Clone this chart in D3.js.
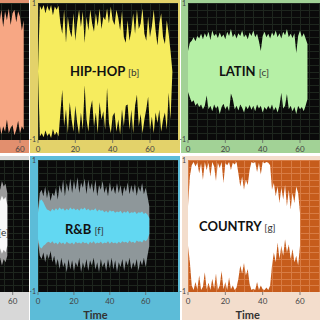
<!DOCTYPE html>
<html>
<head>
<meta charset="utf-8">
<script src="https://cdn.jsdelivr.net/npm/d3@7"></script>
<style>
body { margin: 0; background: #fff; }
svg { display: block; font-family: Lato, "Open Sans", sans-serif; }
</style>
</head>
<body>
<script>
// waveform envelopes, one value per second (first value at the *Start time)
var popStart = 48;
var popUpper = [0.85, 0.7, 0.9, 0.65, 0.88, 0.75, 0.92, 0.68, 0.85, 0.9, 0.72, 0.88, 0.8, 0.6, 0.75];
var popLower = [-0.9, -0.75, -0.92, -0.8, -0.88, -0.7, -0.9, -0.82, -0.78, -0.93, -0.85, -0.72, -0.9, -0.8, -0.85];

var hipHopUpper = [0, 0.96, 0.9, 0.97, 0.85, 0.96, 0.88, 0.97, 0.82, 0.95, 0.9, 0.96, 0.7, 0.55, 0.9, 0.42,
  0.8, 0.6, 0.5, 0.85, 0.45, 0.72, 0.9, 0.65, 0.88, 0.42, 0.8, 0.6, 0.9, 0.7, 0.58, 0.85, 0.66, 0.92, 0.62,
  0.8, 0.75, 0.92, 0.7, 0.95, 0.75, 0.68, 0.9, 0.78, 0.6, 0.88, 0.5, 0.42, 0.75, 0.45, 0.6, 0.85, 0.55, 0.9,
  0.62, 0.7, 0.92, 0.55, 0.45, 0.8, 0.5, 0.66, 0.9, 0.6, 0.38, 0.7, 0.85, 0.5, 0.4, 0.75, 0.55, 0.3, 0];
var hipHopLower = [0, -0.95, -0.9, -0.96, -0.86, -0.94, -0.9, -0.97, -0.84, -0.93, -0.88, -0.95, -0.6, -0.27,
  -0.8, -0.55, -0.9, -0.45, -0.7, -0.88, -0.5, -0.75, -0.92, -0.6, -0.85, -0.2, -0.7, -0.88, -0.55, -0.42,
  -0.8, -0.6, -0.9, -0.45, -0.7, -0.58, -0.85, -0.24, -0.75, -0.9, -0.65, -0.6, -0.88, -0.7, -0.92, -0.55,
  -0.8, -0.5, -0.48, -0.85, -0.56, -0.9, -0.5, -0.34, -0.8, -0.62, -0.9, -0.7, -0.55, -0.37, -0.85, -0.66,
  -0.9, -0.6, -0.75, -0.56, -0.88, -0.7, -0.6, -0.85, -0.31, -0.7, 0];

var latinUpper = [0.3, 0.42, 0.45, 0.5, 0.44, 0.52, 0.48, 0.55, 0.47, 0.56, 0.5, 0.58, 0.46, 0.6, 0.52, 0.55,
  0.49, 0.57, 0.5, 0.54, 0.47, 0.58, 0.52, 0.62, 0.5, 0.55, 0.48, 0.56, 0.52, 0.6, 0.5, 0.54, 0.47, 0.57, 0.52,
  0.6, 0.5, 0.55, 0.44, 0.3, 0.52, 0.58, 0.5, 0.55, 0.48, 0.57, 0.52, 0.6, 0.5, 0.56, 0.48, 0.58, 0.53, 0.62,
  0.5, 0.55, 0.49, 0.56, 0.27, 0.52, 0.6, 0.5, 0.56, 0.48, 0.4];
var latinLower = [-0.3, -0.38, -0.45, -0.42, -0.5, -0.46, -0.52, -0.48, -0.55, -0.5, -0.35, -0.55, -0.5, -0.58,
  -0.48, -0.54, -0.5, -0.62, -0.52, -0.47, -0.55, -0.5, -0.58, -0.32, -0.4, -0.55, -0.5, -0.57, -0.48, -0.53,
  -0.6, -0.5, -0.55, -0.49, -0.56, -0.5, -0.58, -0.48, -0.54, -0.5, -0.6, -0.52, -0.56, -0.5, -0.55, -0.48,
  -0.57, -0.52, -0.6, -0.5, -0.31, -0.54, -0.5, -0.33, -0.55, -0.5, -0.58, -0.52, -0.62, -0.5, -0.55, -0.52,
  -0.58, -0.5, -0.4];

var rockStart = 52;
var rockPeakUpper = [0.66, 0.55, 0.68, 0.6, 0.64, 0.5];
var rockPeakLower = [-0.56, -0.48, -0.6, -0.5, -0.55, -0.45];
var rockBodyUpper = [0.45, 0.38, 0.46, 0.4, 0.44, 0.32];
var rockBodyLower = [-0.4, -0.34, -0.42, -0.36, -0.4, -0.3];

var rnbPeakUpper = [0.25, 0.5, 0.55, 0.45, 0.6, 0.42, 0.55, 0.38, 0.5, 0.45, 0.58, 0.4, 0.62, 0.5, 0.7, 0.45,
  0.65, 0.52, 0.72, 0.5, 0.68, 0.55, 0.74, 0.5, 0.66, 0.58, 0.72, 0.48, 0.7, 0.55, 0.65, 0.5, 0.7, 0.45, 0.62,
  0.55, 0.68, 0.5, 0.6, 0.45, 0.66, 0.52, 0.6, 0.48, 0.65, 0.5, 0.62, 0.45, 0.6, 0.52, 0.66, 0.48, 0.62, 0.5,
  0.64, 0.46, 0.6, 0.52, 0.65, 0.48, 0.58, 0.45, 0.3];
var rnbPeakLower = [-0.25, -0.45, -0.5, -0.4, -0.55, -0.42, -0.5, -0.38, -0.55, -0.45, -0.6, -0.5, -0.65, -0.48,
  -0.62, -0.55, -0.7, -0.5, -0.66, -0.52, -0.68, -0.55, -0.62, -0.48, -0.7, -0.55, -0.64, -0.5, -0.68, -0.52,
  -0.6, -0.48, -0.66, -0.55, -0.7, -0.5, -0.62, -0.55, -0.68, -0.5, -0.64, -0.48, -0.66, -0.52, -0.7, -0.55,
  -0.62, -0.5, -0.68, -0.52, -0.6, -0.48, -0.66, -0.55, -0.62, -0.5, -0.68, -0.52, -0.6, -0.48, -0.62, -0.45, -0.3];
var rnbBodyUpper = [0.2, 0.38, 0.4, 0.36, 0.3, 0.25, 0.24, 0.22, 0.26, 0.23, 0.27, 0.24, 0.28, 0.25, 0.27, 0.23,
  0.26, 0.24, 0.28, 0.25, 0.27, 0.24, 0.26, 0.23, 0.27, 0.25, 0.28, 0.24, 0.26, 0.23, 0.25, 0.24, 0.27, 0.22,
  0.25, 0.23, 0.24, 0.21, 0.23, 0.2, 0.24, 0.22, 0.23, 0.2, 0.22, 0.21, 0.23, 0.19, 0.22, 0.2, 0.23, 0.19, 0.21,
  0.2, 0.22, 0.18, 0.21, 0.2, 0.22, 0.18, 0.2, 0.17, 0.12];
var rnbBodyLower = [-0.2, -0.32, -0.34, -0.3, -0.28, -0.25, -0.24, -0.26, -0.23, -0.27, -0.25, -0.28, -0.24,
  -0.27, -0.25, -0.28, -0.24, -0.26, -0.27, -0.25, -0.28, -0.24, -0.26, -0.25, -0.27, -0.24, -0.26, -0.25,
  -0.28, -0.24, -0.26, -0.23, -0.27, -0.25, -0.26, -0.24, -0.27, -0.25, -0.26, -0.23, -0.27, -0.24, -0.26,
  -0.25, -0.27, -0.24, -0.26, -0.23, -0.25, -0.24, -0.26, -0.22, -0.25, -0.24, -0.26, -0.22, -0.24, -0.23,
  -0.25, -0.21, -0.23, -0.2, -0.12];

var countryUpper = [0.3, 0.75, 0.92, 0.97, 0.9, 0.96, 0.8, 0.95, 0.7, 0.97, 0.85, 0.96, 0.75, 0.97, 0.9, 0.68,
  0.96, 0.88, 0.97, 0.65, 0.95, 0.92, 0.97, 0.85, 0.96, 0.93, 0.97, 0.8, 0.6, 0.75, 0.55, 0.7, 0.62, 0.85, 0.97,
  0.95, 0.97, 0.82, 0.96, 0.78, 0.97, 0.95, 0.97, 0.96, 0.92, 0.55, 0.65, 0.45, 0.6, 0.35, 0.58, 0.4, 0.62,
  0.3, 0.55, 0.25, 0.5, 0.35, 0.6, 0.5, 0.2];
var countryLower = [-0.3, -0.55, -0.9, -0.97, -0.85, -0.96, -0.75, -0.97, -0.92, -0.7, -0.96, -0.86, -0.97,
  -0.8, -0.95, -0.72, -0.97, -0.9, -0.68, -0.96, -0.85, -0.97, -0.78, -0.96, -0.9, -0.97, -0.93, -0.8, -0.6,
  -0.72, -0.56, -0.75, -0.65, -0.88, -0.97, -0.95, -0.97, -0.85, -0.97, -0.9, -0.96, -0.97, -0.93, -0.97,
  -0.9, -0.6, -0.4, -0.55, -0.25, -0.5, -0.3, -0.45, -0.2, -0.4, -0.28, -0.5, -0.35, -0.55, -0.45, -0.6, -0.3];

var xTicks = [0, 20, 40, 60];
var yLabels = ["1", "-1"];
var xTitle = "Time";

var svg = d3.select("body").append("svg")
  .attr("width", 320)
  .attr("height", 320);

// layout of the 6 visible panels (two are cut by the picture edge)
var panels = [
  {id: "a", frame: [0, 0, 29, 153], frameColor: "#e28f6e", left: -92, top: 3, width: 140, height: 137, domain: 75,
   clipRight: 29, bg: "#0a0a0a", grid: "#1e261e", fill: "#f7a784", start: popStart, upper: popUpper, lower: popLower},
  {id: "b", frame: [30, 0, 150, 153], frameColor: "#e3d26a", left: 38, top: 3, width: 140, height: 137, domain: 75,
   bg: "#0a0a0a", grid: "#1e261e", fill: "#f6ec5e", start: 0, upper: hipHopUpper, lower: hipHopLower,
   title: "HIP-HOP", tag: "[b]", tx: 70, ty: 76},
  {id: "c", frame: [181, 0, 139, 153], frameColor: "#a2d296", left: 188, top: 3, width: 140, height: 137, domain: 75,
   bg: "#0a0a0a", grid: "#1e261e", fill: "#b6f0a6", start: 0, upper: latinUpper, lower: latinLower,
   title: "LATIN", tag: "[c]", tx: 219, ty: 76},
  {id: "e", frame: [0, 156, 29, 164], frameColor: "#d8d8d8", left: -95, top: 160, width: 140, height: 132, domain: 78,
   clipRight: 29, bg: "#0a0a0a", grid: "#1e261e", fill: "#f8f8f8", peak: "#9c9c9c", start: rockStart,
   upper: rockBodyUpper, lower: rockBodyLower, peakUpper: rockPeakUpper, peakLower: rockPeakLower,
   title: "", tag: "[e]", tx: 9, ty: 236, anchor: "end", xTitle: true},
  {id: "f", frame: [30, 156, 150, 164], frameColor: "#5cbcd8", left: 38, top: 160, width: 140, height: 132, domain: 78,
   bg: "#0a0a0a", grid: "#1e261e", fill: "#62d8f2", peak: "#8e979a", start: 0,
   upper: rnbBodyUpper, lower: rnbBodyLower, peakUpper: rnbPeakUpper, peakLower: rnbPeakLower,
   title: "R&B", tag: "[f]", tx: 65, ty: 234, xTitle: true},
  {id: "g", frame: [182, 156, 138, 164], frameColor: "#f3ddcc", left: 188, top: 160, width: 140, height: 132, domain: 75,
   bg: "#c65c1c", grid: "#d87c44", fill: "#ffffff", start: 0, upper: countryUpper, lower: countryLower,
   title: "COUNTRY", tag: "[g]", tx: 199, ty: 231, xTitle: true}
];

panels.forEach(function(p) {
  var g = svg.append("g");

  g.append("rect")
    .attr("x", p.frame[0]).attr("y", p.frame[1])
    .attr("width", p.frame[2]).attr("height", p.frame[3])
    .attr("fill", p.frameColor);

  var x = d3.scaleLinear().domain([0, p.domain]).range([p.left, p.left + p.width]);
  var y = d3.scaleLinear().domain([-1, 1]).range([p.top + p.height, p.top]);

  var right = p.clipRight !== undefined ? p.clipRight : p.left + p.width;
  var clipLeft = Math.max(p.left, p.frame[0]);
  g.append("clipPath").attr("id", "clip-" + p.id)
    .append("rect")
    .attr("x", clipLeft).attr("y", p.top)
    .attr("width", right - clipLeft).attr("height", p.height);

  var plot = g.append("g").attr("clip-path", "url(#clip-" + p.id + ")");

  plot.append("rect")
    .attr("x", p.left).attr("y", p.top)
    .attr("width", p.width).attr("height", p.height)
    .attr("fill", p.bg);

  //grid
  plot.selectAll(".hgrid").data(d3.range(-10, 11)).enter().append("line")
    .attr("x1", p.left).attr("x2", p.left + p.width)
    .attr("y1", function(d) { return Math.round(y(d / 10)) + 0.5; })
    .attr("y2", function(d) { return Math.round(y(d / 10)) + 0.5; })
    .attr("stroke", p.grid).attr("stroke-width", 1);
  plot.selectAll(".vgrid").data(d3.range(0, p.domain, 5)).enter().append("line")
    .attr("y1", p.top).attr("y2", p.top + p.height)
    .attr("x1", function(d) { return Math.round(x(d)) + 0.5; })
    .attr("x2", function(d) { return Math.round(x(d)) + 0.5; })
    .attr("stroke", p.grid).attr("stroke-width", 1);

  var area = d3.area()
    .x(function(d, i) { return x(p.start + i); })
    .y0(function(d) { return y(d[1]); })
    .y1(function(d) { return y(d[0]); });

  if (p.peakUpper) {
    plot.append("path")
      .datum(d3.zip(p.peakUpper, p.peakLower))
      .attr("d", area)
      .attr("fill", p.peak);
  }
  plot.append("path")
    .datum(d3.zip(p.upper, p.lower))
    .attr("d", area)
    .attr("fill", p.fill);

  // x ticks
  var bottom = p.top + p.height;
  var ticks = g.selectAll(".tick").data(xTicks).enter().append("g")
    .attr("transform", function(d) { return "translate(" + x(d) + "," + bottom + ")"; });
  ticks.append("line").attr("y1", 0).attr("y2", 3).attr("stroke", "#666").attr("stroke-width", 0.8);
  ticks.append("text").attr("y", 12).attr("text-anchor", "middle")
    .attr("font-size", 8).attr("fill", "#444")
    .text(function(d) { return d; });

  // y labels
  g.append("text").attr("x", p.left - 2).attr("y", p.top + 3)
    .attr("text-anchor", "end").attr("font-size", 7).attr("fill", "#444").text(yLabels[0]);
  g.append("text").attr("x", p.left - 2).attr("y", bottom + 2)
    .attr("text-anchor", "end").attr("font-size", 7).attr("fill", "#444").text(yLabels[1]);

  if (p.xTitle) {
    g.append("text").attr("x", x(32)).attr("y", 319)
      .attr("text-anchor", "middle").attr("font-size", 11).attr("font-weight", 700)
      .attr("fill", "#333").text(xTitle);
  }

  if (p.tag) {
    var t = g.append("text").attr("x", p.tx).attr("y", p.ty)
      .attr("text-anchor", p.anchor || "start").attr("fill", "#111");
    t.append("tspan").attr("font-size", 13).attr("font-weight", 700).text(p.title ? p.title + " " : "");
    t.append("tspan").attr("font-size", 10).attr("fill", "#333").text(p.tag);
  }
});
</script>
</body>
</html>
